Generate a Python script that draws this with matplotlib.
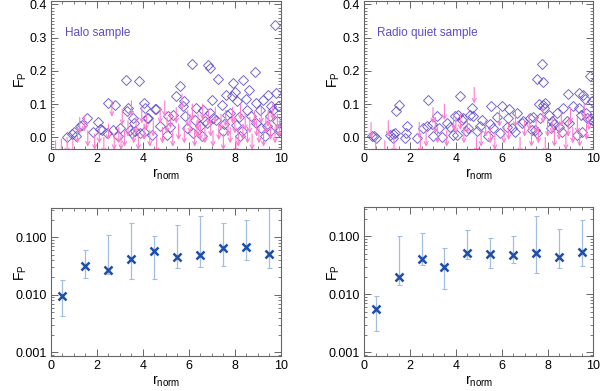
import numpy as np
import matplotlib
matplotlib.use('Agg')
import matplotlib.pyplot as plt
from matplotlib.ticker import MultipleLocator, LogLocator, FixedLocator, NullFormatter

plt.rcParams['font.family'] = ['Liberation Sans', 'DejaVu Sans']
plt.rcParams['mathtext.fontset'] = 'custom'
plt.rcParams['mathtext.rm'] = 'Liberation Sans'
plt.rcParams['mathtext.it'] = 'Liberation Sans'

# -------------------------------------------------------
# Data: halo sample (detections = diamonds, upper limits = arrows)
# -------------------------------------------------------
halo_det_x = [0.68, 0.9, 1.0, 1.1, 1.26, 1.33, 1.58, 1.84, 2.03, 2.13,
              2.2, 2.42, 2.49, 2.78, 2.7, 2.93, 3.0, 3.26, 3.29, 3.33,
              3.43, 3.51, 3.58, 3.62, 3.65, 3.84, 3.87, 4.04, 4.09, 4.16,
              4.23, 4.06, 4.38, 4.52, 4.59, 4.74, 5.03, 5.1, 5.32, 5.46,
              5.61, 5.75, 5.8, 5.83, 5.9, 6.12, 6.19, 6.26, 6.33, 6.48,
              6.55, 6.62, 6.77, 6.84, 6.91, 6.91, 6.99, 7.06, 7.2, 7.28,
              7.42, 7.49, 7.61, 7.64, 7.78, 7.86, 7.93, 8.0, 8.07, 8.1,
              8.19, 8.22, 8.36, 8.48, 8.54, 8.62, 8.72, 8.87, 8.91, 8.94,
              9.09, 9.16, 9.23, 9.3, 9.45, 9.52, 9.59, 9.67, 9.74, 9.81,
              9.84, 9.88, 9.93, 9.96, 9.55, 6.7, 7.55, 8.3, 9.4, 5.2]
halo_det_y = [0.0, 0.01, 0.015, 0.003, 0.033, 0.037, 0.057, 0.015, 0.046, 0.025,
              0.023, 0.013, 0.103, 0.098, 0.023, 0.003, 0.028, 0.173, 0.078, 0.088,
              0.023, 0.013, 0.058, 0.043, 0.018, 0.17, 0.013, 0.103, 0.088, 0.058,
              0.058, 0.015, 0.008, 0.085, 0.085, 0.033, 0.008, 0.063, 0.068, 0.123,
              0.155, 0.093, 0.108, 0.063, 0.028, 0.22, 0.013, 0.053, 0.088, 0.033,
              0.003, 0.083, 0.043, 0.217, 0.208, 0.073, 0.113, 0.058, 0.053, 0.176,
              0.098, 0.018, 0.128, 0.068, 0.073, 0.123, 0.165, 0.138, 0.038, 0.108,
              0.061, 0.003, 0.173, 0.116, 0.083, 0.143, 0.063, 0.198, 0.043, 0.103,
              0.083, 0.028, 0.113, 0.003, 0.128, 0.063, 0.093, 0.083, 0.339, 0.133,
              0.048, 0.093, 0.018, 0.023, 0.018, 0.048, 0.04, 0.02, 0.035, 0.03]
halo_lim_x = [0.2, 0.45, 0.7, 0.95, 1.15, 1.25, 1.45, 1.6, 1.9, 2.1,
              2.3, 2.5, 2.65, 2.75, 2.95, 3.1, 3.2, 3.35, 3.5, 3.6,
              3.7, 3.8, 3.95, 4.05, 4.15, 4.3, 4.45, 4.6, 4.75, 4.85,
              4.95, 5.05, 5.2, 5.3, 5.45, 5.55, 5.7, 5.8, 5.95, 6.05,
              6.15, 6.25, 6.4, 6.5, 6.6, 6.7, 6.85, 6.95, 7.05, 7.15,
              7.3, 7.4, 7.5, 7.6, 7.7, 7.8, 7.9, 8.0, 8.15, 8.25,
              8.35, 8.45, 8.55, 8.65, 8.75, 8.85, 8.95, 9.05, 9.15, 9.25,
              9.35, 9.45, 9.55, 9.65, 9.75, 9.85, 9.95, 3.05, 6.35, 8.05]
halo_lim_y = [-0.01, -0.005, 0.0, -0.01, 0.03, 0.06, 0.065, 0.02, 0.01, 0.03,
              0.0, 0.04, 0.11, 0.01, 0.03, 0.085, 0.02, 0.05, 0.11, 0.03,
              0.06, 0.01, 0.09, 0.04, 0.07, 0.02, 0.05, 0.0, 0.09, 0.03,
              0.11, 0.06, 0.075, 0.02, 0.09, 0.04, 0.13, 0.03, 0.08, 0.06,
              0.10, 0.02, 0.07, 0.04, 0.10, 0.03, 0.085, 0.05, 0.02, 0.09,
              0.04, 0.07, 0.01, 0.08, 0.05, 0.03, 0.09, 0.06, 0.02, 0.10,
              0.04, 0.07, 0.03, 0.06, 0.01, 0.08, 0.05, 0.03, 0.09, 0.02,
              0.06, 0.08, 0.04, 0.10, 0.03, 0.07, 0.05, 0.01, 0.05, 0.0]

# -------------------------------------------------------
# Data: radio quiet sample
# -------------------------------------------------------
rq_det_x = [0.32, 0.42, 0.51, 1.12, 1.27, 1.38, 1.51, 1.24, 1.35, 1.78,
            1.82, 1.85, 2.29, 2.58, 2.79, 2.72, 2.94, 3.01, 3.19, 3.28,
            3.38, 3.6, 3.74, 3.89, 3.96, 4.03, 4.1, 4.18, 4.25, 4.32,
            4.44, 4.54, 4.61, 4.69, 4.73, 4.9, 5.05, 5.12, 5.41, 5.49,
            5.52, 5.63, 5.78, 5.92, 6.03, 6.22, 6.29, 6.33, 6.43, 6.58,
            6.65, 6.87, 6.94, 7.23, 7.31, 7.38, 7.45, 7.53, 7.55, 7.64,
            7.67, 7.74, 7.79, 7.82, 7.89, 7.86, 8.08, 8.14, 8.18, 8.28,
            8.4, 8.52, 8.62, 8.69, 8.84, 8.91, 8.95, 9.13, 9.27, 9.35,
            9.39, 9.45, 9.49, 9.56, 9.64, 9.68, 9.74, 9.83, 9.86, 9.93,
            9.97]
rq_det_y = [0.003, 0.003, -0.002, 0.008, 0.011, 0.078, 0.098, -0.002, 0.013, -0.002,
            0.013, 0.033, -0.002, 0.028, 0.113, 0.033, 0.041, 0.003, 0.063, 0.028,
            0.001, 0.043, 0.03, 0.008, 0.063, 0.008, 0.068, 0.123, 0.053, 0.058,
            0.018, 0.028, 0.068, 0.088, 0.065, 0.018, 0.033, 0.053, 0.005, 0.041,
            0.093, 0.028, 0.06, 0.013, 0.095, 0.03, 0.058, 0.086, 0.028, 0.015,
            0.073, 0.043, 0.048, 0.058, 0.023, 0.061, 0.023, 0.175, 0.013, 0.101,
            0.058, 0.22, 0.098, 0.168, 0.103, 0.088, 0.068, 0.028, 0.05, 0.04,
            0.073, 0.03, 0.015, 0.088, 0.048, 0.131, 0.043, 0.093, 0.008, 0.088,
            0.135, 0.068, 0.015, 0.128, 0.115, 0.073, 0.058, 0.055, 0.185, 0.108,
            0.048]
rq_lim_x = [0.3, 0.5, 0.9, 1.05, 1.3, 2.4, 2.45, 2.7, 3.0, 3.1,
            3.2, 3.5, 3.6, 3.9, 4.0, 4.2, 4.35, 4.5, 4.8, 4.9,
            5.1, 5.3, 5.5, 5.7, 5.9, 6.1, 6.3, 6.6, 6.8, 7.0,
            7.2, 7.3, 7.5, 7.6, 7.8, 7.9, 8.0, 8.2, 8.3, 8.5,
            8.6, 8.8, 8.9, 9.0, 9.1, 9.3, 9.4, 9.6, 9.7, 9.8]
rq_lim_y = [0.045, -0.01, -0.01, 0.05, 0.0, 0.045, 0.0, 0.02, 0.09, 0.06,
            0.03, 0.10, 0.02, 0.07, 0.06, 0.07, 0.03, 0.06, 0.15, 0.0,
            0.02, 0.05, 0.03, 0.01, 0.08, 0.03, 0.04, 0.08, 0.0, 0.05,
            0.07, 0.02, 0.06, 0.03, 0.09, 0.0, 0.05, 0.06, 0.02, 0.04,
            0.08, 0.01, 0.05, 0.09, 0.03, 0.06, 0.02, 0.10, 0.04, 0.07]

# -------------------------------------------------------
# Data: binned fractions (bottom row)
# -------------------------------------------------------
bin_x = [0.5, 1.5, 2.5, 3.5, 4.5, 5.5, 6.5, 7.5, 8.5, 9.5]
halo_frac = [0.0095, 0.032, 0.027, 0.042, 0.058, 0.046, 0.049, 0.066, 0.067, 0.051]
halo_lo = [0.0042, 0.0195, 0.023, 0.019, 0.019, 0.029, 0.030, 0.032, 0.040, 0.029]
halo_hi = [0.018, 0.059, 0.11, 0.175, 0.104, 0.164, 0.234, 0.18, 0.198, 0.40]
rq_frac = [0.0056, 0.020, 0.040, 0.030, 0.052, 0.049, 0.047, 0.052, 0.044, 0.054]
rq_lo = [0.0023, 0.0146, 0.0326, 0.0125, 0.040, 0.028, 0.034, 0.023, 0.028, 0.031]
rq_hi = [0.0093, 0.100, 0.114, 0.064, 0.126, 0.095, 0.100, 0.223, 0.132, 0.190]

DIAMOND_COL = '#5e4cc4'
ARROW_COL = '#ff7ad2'
CROSS_COL = '#1f4fa8'
ERR_COL = '#a3bde0'
FRAME_COL = '#666666'

fig = plt.figure(figsize=(6.0, 3.91), dpi=100)

ax_tl = fig.add_axes([0.085, 0.619, 0.383, 0.378])
ax_tr = fig.add_axes([0.607, 0.619, 0.382, 0.378])
ax_bl = fig.add_axes([0.085, 0.0895, 0.383, 0.378])
ax_br = fig.add_axes([0.607, 0.0895, 0.382, 0.381])


def style_axes(ax, label_y):
    for sp in ax.spines.values():
        sp.set_color(FRAME_COL)
        sp.set_linewidth(0.8)
    ax.tick_params(which='both', direction='in', top=True, right=True,
                   color=FRAME_COL, labelsize=9, pad=3)
    ax.tick_params(which='major', length=5, width=0.7)
    ax.tick_params(which='minor', length=2.5, width=0.6)
    ax.set_xlim(0, 10)
    ax.xaxis.set_major_locator(MultipleLocator(2))
    ax.xaxis.set_minor_locator(MultipleLocator(0.5))
    ax.set_xlabel(r'$\mathrm{r}_{\mathrm{norm}}$', fontsize=10, labelpad=1)
    ax.set_ylabel(r'$\mathrm{F}_{\mathrm{P}}$', fontsize=10)
    ax.yaxis.set_label_coords(-0.096, label_y)


def scatter_panel(ax, dx, dy, lx, ly, label, label_x):
    style_axes(ax, 0.47)
    for x, y in zip(lx, ly):
        ann = ax.annotate('', xy=(x, y - 0.048), xytext=(x, y),
                          arrowprops=dict(arrowstyle='->', color=ARROW_COL, lw=0.8,
                                          mutation_scale=7, shrinkA=0, shrinkB=0),
                          annotation_clip=False)
        ann.arrow_patch.set_clip_box(ax.bbox)
        ann.arrow_patch.set_clip_on(True)
    ax.plot(dx, dy, 'D', ms=5, mfc='none', mec=DIAMOND_COL, mew=0.7, alpha=0.85)
    ax.set_ylim(-0.035, 0.41)
    ax.yaxis.set_major_locator(MultipleLocator(0.1))
    ax.yaxis.set_minor_locator(MultipleLocator(0.01))
    ax.yaxis.set_major_formatter(plt.FormatStrFormatter('%.1f'))
    ax.text(label_x, 0.315, label, color=DIAMOND_COL, fontsize=8.5, va='center')


def frac_panel(ax, y, lo, hi):
    style_axes(ax, 0.56)
    ax.set_yscale('log')
    yerr = [np.array(y) - np.array(lo), np.array(hi) - np.array(y)]
    ax.errorbar(bin_x, y, yerr=yerr, fmt='none', ecolor=ERR_COL, elinewidth=0.9,
                capsize=1.8, capthick=0.8)
    ax.plot(bin_x, y, 'x', ms=6, mew=1.8, color=CROSS_COL)
    ax.set_ylim(0.00086, 0.32)
    ax.yaxis.set_major_locator(FixedLocator([0.001, 0.01, 0.1]))
    ax.yaxis.set_minor_locator(LogLocator(base=10, subs=np.arange(2, 10)))
    ax.yaxis.set_minor_formatter(NullFormatter())
    ax.yaxis.set_major_formatter(plt.FormatStrFormatter('%.3f'))


scatter_panel(ax_tl, halo_det_x, halo_det_y, halo_lim_x, halo_lim_y, 'Halo sample', 0.6)
scatter_panel(ax_tr, rq_det_x, rq_det_y, rq_lim_x, rq_lim_y, 'Radio quiet sample', 0.54)
frac_panel(ax_bl, halo_frac, halo_lo, halo_hi)
frac_panel(ax_br, rq_frac, rq_lo, rq_hi)

fig.savefig('out.png', dpi=100)
